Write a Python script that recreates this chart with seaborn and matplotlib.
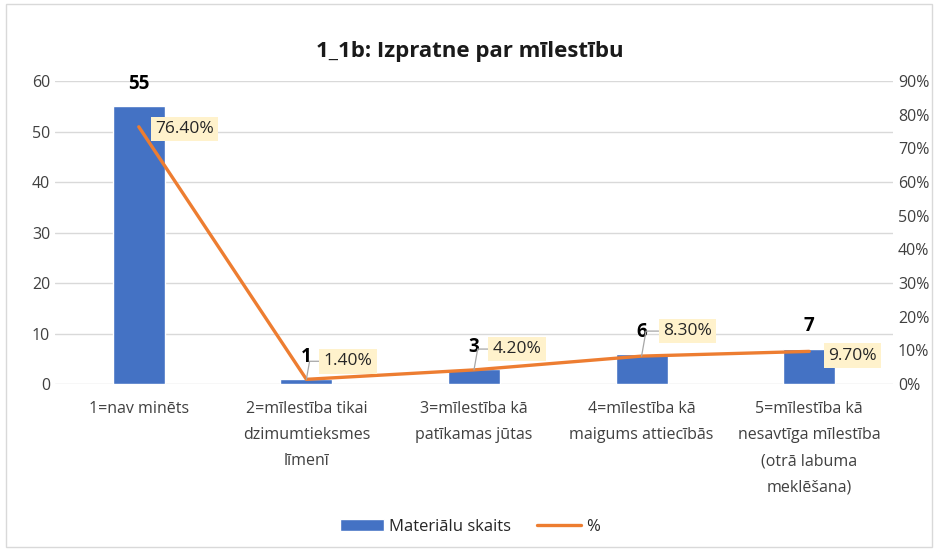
import numpy as np
import pandas as pd
import matplotlib.pyplot as plt
import matplotlib.ticker as mtick
from matplotlib.patches import Rectangle
import seaborn as sns

# data
categories = ["1=nav minēts",
              "2=mīlestība tikai\ndzimumtieksmes\nlīmenī",
              "3=mīlestība kā\npatīkamas jūtas",
              "4=mīlestība kā\nmaigums attiecībās",
              "5=mīlestība kā\nnesavtīga mīlestība\n(otrā labuma\nmeklēšana)"]
counts = [55, 1, 3, 6, 7]
pct = [0.764, 0.014, 0.042, 0.083, 0.097]
pct_labels = ["76.40%", "1.40%", "4.20%", "8.30%", "9.70%"]

sns.set_style("white")
plt.rcParams['font.family'] = ['Open Sans', 'DejaVu Sans']

df = pd.DataFrame({"cat": categories, "n": counts, "p": pct})

fig = plt.figure(figsize=(9.4, 5.51), dpi=100)
ax = fig.add_axes([0.0585, 0.303, 0.8915, 0.55])

sns.barplot(data=df, x="cat", y="n", color="#4472C4", width=0.31,
            saturation=1, ax=ax, label="Materiālu skaits")
ax.set_ylim(0, 60)
ax.set_yticks(range(0, 61, 10))
ax.grid(axis="y", color="#D9D9D9", lw=1)
ax.set_axisbelow(True)
ax.set_xlabel("")
ax.set_ylabel("")
ax.tick_params(axis="both", colors="#404040", labelsize=11.5, length=0)
ax.tick_params(axis="x", pad=12)
ax.set_xticks(range(len(categories)), labels=categories, linespacing=1.85,
              va="top")
for s in ax.spines.values():
    s.set_visible(False)

# bar value labels
for i, v in enumerate(counts):
    ax.annotate(str(v), (i, v), xytext=(0, 16), textcoords="offset points",
                ha="center", va="center", fontsize=13.5, fontweight="bold",
                color="black")

ax2 = ax.twinx()
sns.lineplot(x=np.arange(len(pct)), y=pct, color="#ED7D31", lw=2.4,
             ax=ax2, label="%")
ax2.set_ylim(0, 0.9)
ax2.set_yticks(np.arange(0, 0.91, 0.1))
ax2.yaxis.set_major_formatter(mtick.PercentFormatter(1.0, decimals=0))
ax2.tick_params(axis="y", colors="#404040", labelsize=11.5, length=0)
for s in ax2.spines.values():
    s.set_visible(False)
ax2.get_legend().remove()
ax.set_xlim(-0.5, len(categories) - 0.5)

# percentage labels with boxes
offs = [(33, -1.5), (30, 13), (31, 15), (33, 18), (31, -3)]
for i, (p, lab) in enumerate(zip(pct, pct_labels)):
    dx, dy = offs[i]
    arrow = None
    if i in (1, 2, 3):
        arrow = dict(arrowstyle="-", color="#A6A6A6", lw=0.9, shrinkA=0, shrinkB=0,
                     connectionstyle="angle,angleA=0,angleB=80,rad=0")
    ax2.annotate(lab, (i, p), xytext=(dx, dy), textcoords="offset points",
                 ha="center", va="center", fontsize=12.5, color="#262626",
                 bbox=dict(boxstyle="square,pad=0.25", fc="#FFF2CC", ec="none"),
                 arrowprops=arrow)

fig.suptitle("1_1b: Izpratne par mīlestību", y=0.925, fontsize=16,
             fontweight="bold", color="#1a1a1a")

h1, l1 = ax.get_legend_handles_labels()
h2, l2 = ax2.get_legend_handles_labels()
if ax.get_legend():
    ax.get_legend().remove()
fig.legend(h1 + h2, l1 + l2, loc="center", bbox_to_anchor=(0.5, 0.044),
           ncol=2, frameon=False, fontsize=12, handlelength=2.6,
           handletextpad=0.3, columnspacing=1.6, labelcolor="#262626")

fig.patches.append(Rectangle((0.006, 0.008), 0.985, 0.984, transform=fig.transFigure,
                             fill=False, ec="#D9D9D9", lw=1))

fig.savefig("out.png", dpi=100)
